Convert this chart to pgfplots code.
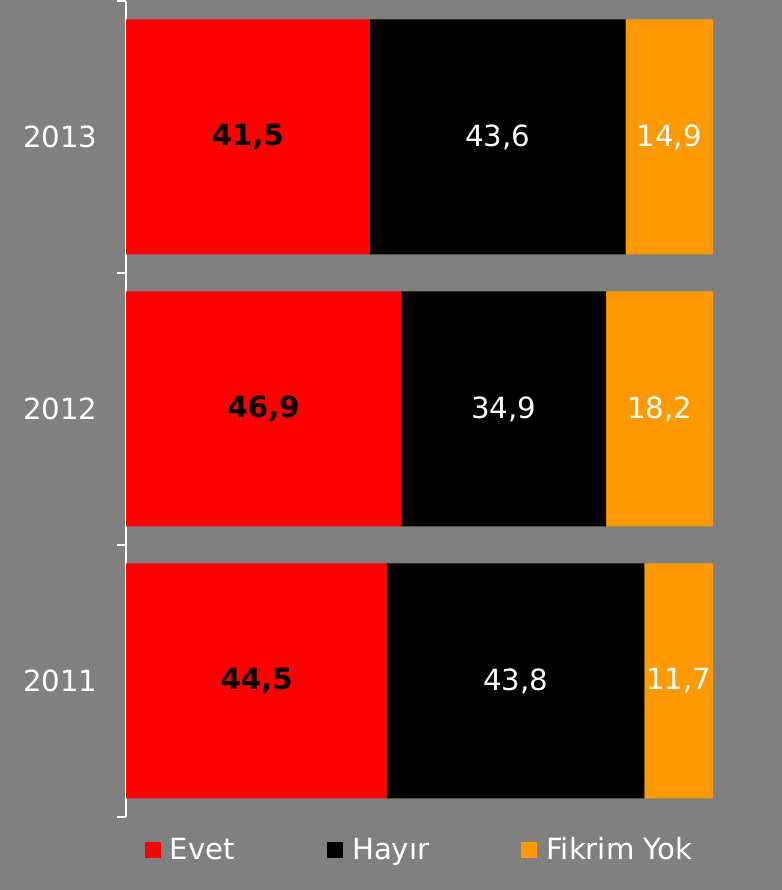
\documentclass[border=0pt]{standalone}
\usepackage{pgfplots}
\pgfplotsset{compat=1.18}
\usepackage{fontspec}
\setmainfont{DejaVu Sans}
\definecolor{bg}{HTML}{808080}
\definecolor{evet}{HTML}{FF0000}
\definecolor{fikrim}{HTML}{FF9900}
\newcommand{\bigf}{\fontsize{29.3}{33}\selectfont}
\begin{document}
\begin{tikzpicture}[x=1bp,y=1bp]
\fill[bg] (0,0) rectangle (782,890);
\pgfplotsset{myaxis/.style={scale only axis, width=587bp, height=816bp,
  at={(126bp,73bp)}, anchor=south west, xmin=0, xmax=100, ymin=0.5, ymax=3.5}}
\begin{axis}[myaxis, xbar stacked, bar width=235bp,
  axis x line=none, axis y line*=left,
  y axis line style={white, line width=1.2pt},
  ytick={1,2,3}, yticklabels={2011,2012,2013},
  major tick length=0pt,
  minor ytick={0.5,1.5,2.5,3.5}, minor tick length=9bp, tick align=outside,
  minor tick style={white, line width=1.2pt},
  yticklabel style={font=\bigf, text=white, xshift=-25bp},
  legend columns=3,
  legend style={at={(0.032,-0.040)}, anchor=west, draw=none, fill=none,
    text=white, font=\bigf, inner sep=0pt,
    /tikz/every odd column/.append style={column sep=7bp},
    /tikz/every even column/.append style={column sep=90bp}},
  legend cell align=left,
]
\addplot[fill=evet, draw=none, legend image code/.code={\fill[evet] (0bp,-8bp) rectangle (16bp,8bp);}]
  coordinates {(44.5,1) (46.9,2) (41.5,3)};
\addlegendentry{Evet}
\addplot[fill=black, draw=none, legend image code/.code={\fill[black] (0bp,-8bp) rectangle (16bp,8bp);}]
  coordinates {(43.8,1) (34.9,2) (43.6,3)};
\addlegendentry{Hayır}
\addplot[fill=fikrim, draw=none, legend image code/.code={\fill[fikrim] (0bp,-8bp) rectangle (16bp,8bp);}]
  coordinates {(11.7,1) (18.2,2) (14.9,3)};
\addlegendentry{Fikrim Yok}
\end{axis}
\begin{axis}[myaxis, hide axis, clip=false, point meta=explicit symbolic,
  nodes near coords={\pgfplotspointmeta}, nodes near coords align=center]
\addplot[only marks, mark=none, every node near coord/.append style={anchor=center, font=\bigf\bfseries, text=black}]
  table[meta=l] {x y l
22.25 1 44,5
23.45 2 46,9
20.75 3 41,5
};
\addplot[only marks, mark=none, every node near coord/.append style={anchor=center, font=\bigf, text=white}]
  table[meta=l] {x y l
66.4 1 43,8
64.35 2 34,9
63.3 3 43,6
94.15 1 11,7
90.9 2 18,2
92.55 3 14,9
};
\end{axis}
\end{tikzpicture}
\end{document}
